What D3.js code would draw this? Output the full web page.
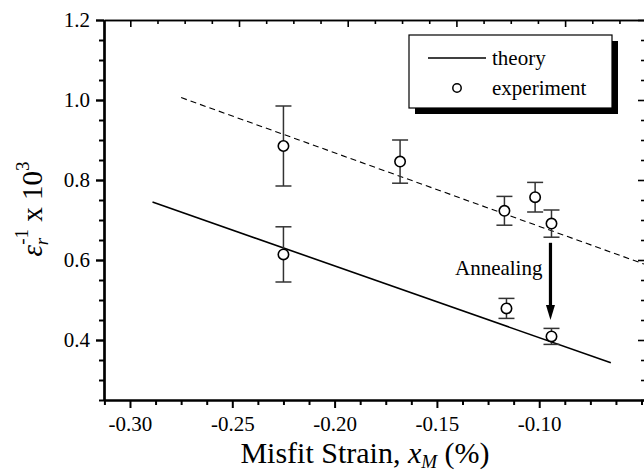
<!DOCTYPE html>
<html>
<head>
<meta charset="utf-8">
<script src="https://cdn.jsdelivr.net/npm/d3@7"></script>
<style>
  body { margin: 0; background: #fff; }
  text { font-family: "Liberation Serif", "Times New Roman", serif; fill: #000; }
</style>
</head>
<body>
<div id="chart"></div>
<script>
// experiment, upper group (as grown)
const grownStrain = [-0.225, -0.168, -0.117, -0.102, -0.094];
const grownValue  = [0.885, 0.846, 0.723, 0.757, 0.691];
const grownError  = [0.100, 0.054, 0.036, 0.037, 0.034];
// experiment, lower group
const lowStrain = [-0.225, -0.116, -0.094];
const lowValue  = [0.614, 0.479, 0.409];
const lowError  = [0.069, 0.025, 0.020];
// theory line and dashed guide
const theoryStrain = [-0.289, -0.065];
const theoryValue  = [0.745, 0.343];
const guideStrain  = [-0.275, -0.0483];
const guideValue   = [1.006, 0.589];
// annealing arrow
const annealStrain = -0.0945;
const annealFrom = 0.643, annealTo = 0.45;

const xMajor = [-0.30, -0.25, -0.20, -0.15, -0.10];
const yMajor = [0.4, 0.6, 0.8, 1.0, 1.2];

const W = 644, H = 473;
const plot = {left: 104, right: 645, top: 20, bottom: 400};

const svg = d3.select("#chart").append("svg")
  .attr("width", W).attr("height", H);

const x = d3.scaleLinear().domain([-0.3127, -0.0483]).range([plot.left, plot.right]);
const y = d3.scaleLinear().domain([0.25, 1.2]).range([plot.bottom, plot.top]);
// unlabelled top scale, its ticks do not line up with the bottom ones
const xTop = d3.scaleLinear().domain([-0.242, 4.735]).range([plot.left, plot.right]);

const xMinor = d3.range(-0.3125, -0.049, 0.0125).filter(v => !xMajor.some(m => Math.abs(m - v) < 1e-6));
const yMinor = d3.range(0.25, 1.2, 0.05).filter(v => !yMajor.some(m => Math.abs(m - v) < 1e-6));
const topMajor = [0, 1, 2, 3, 4];
const topMinor = d3.range(0, 4.75, 0.25).filter(v => v % 1 !== 0);

function styleAxis(g, w) {
  g.select(".domain").attr("stroke", "#000").attr("stroke-width", w);
  g.selectAll(".tick line").attr("stroke", "#000").attr("stroke-width", w);
  g.selectAll(".tick text").attr("font-size", 21).attr("fill", "#000");
}

// bottom
svg.append("g").attr("transform", `translate(0,${plot.bottom})`)
  .call(d3.axisBottom(x).tickValues(xMinor).tickSize(5).tickFormat("").tickSizeOuter(0))
  .call(g => styleAxis(g, 2));
svg.append("g").attr("transform", `translate(0,${plot.bottom})`)
  .call(d3.axisBottom(x).tickValues(xMajor).tickSize(8).tickPadding(8).tickSizeOuter(0).tickFormat(d => d.toFixed(2)))
  .call(g => styleAxis(g, 2));

// left
svg.append("g").attr("transform", `translate(${plot.left},0)`)
  .call(d3.axisLeft(y).tickValues(yMinor).tickSize(5).tickFormat("").tickSizeOuter(0))
  .call(g => styleAxis(g, 2));
svg.append("g").attr("transform", `translate(${plot.left},0)`)
  .call(d3.axisLeft(y).tickValues(yMajor).tickSize(8).tickPadding(6).tickSizeOuter(0).tickFormat(d => d.toFixed(1)))
  .call(g => styleAxis(g, 2.4));

// top (inward ticks)
svg.append("g").attr("transform", `translate(0,${plot.top})`)
  .call(d3.axisBottom(xTop).tickValues(topMinor).tickSize(4).tickFormat("").tickSizeOuter(0))
  .call(g => styleAxis(g, 1.6));
svg.append("g").attr("transform", `translate(0,${plot.top})`)
  .call(d3.axisBottom(xTop).tickValues(topMajor).tickSize(7).tickFormat("").tickSizeOuter(0))
  .call(g => styleAxis(g, 1.6));

// right (inward ticks)
svg.append("g").attr("transform", `translate(${plot.right},0)`)
  .call(d3.axisLeft(y).tickValues(yMinor).tickSize(4).tickFormat("").tickSizeOuter(0))
  .call(g => styleAxis(g, 1.6));
svg.append("g").attr("transform", `translate(${plot.right},0)`)
  .call(d3.axisLeft(y).tickValues(yMajor).tickSize(7).tickFormat("").tickSizeOuter(0))
  .call(g => styleAxis(g, 1.6));

// lines
const line = d3.line().x(d => x(d[0])).y(d => y(d[1]));
svg.append("path")
  .datum(d3.zip(guideStrain, guideValue))
  .attr("d", line).attr("fill", "none").attr("stroke", "#000")
  .attr("stroke-width", 1.1).attr("stroke-dasharray", "6,4");
svg.append("path")
  .datum(d3.zip(theoryStrain, theoryValue))
  .attr("d", line).attr("fill", "none").attr("stroke", "#000")
  .attr("stroke-width", 1.6);

// experiment points with error bars
const points = d3.zip(grownStrain, grownValue, grownError)
  .concat(d3.zip(lowStrain, lowValue, lowError));
const capW = 8;
const pg = svg.append("g").selectAll("g").data(points).join("g");
pg.append("line")
  .attr("x1", d => x(d[0])).attr("x2", d => x(d[0]))
  .attr("y1", d => y(d[1] + d[2])).attr("y2", d => y(d[1] - d[2]))
  .attr("stroke", "#333").attr("stroke-width", 1.5);
pg.selectAll(".cap").data(d => [[d[0], d[1] + d[2]], [d[0], d[1] - d[2]]]).join("line")
  .attr("class", "cap")
  .attr("x1", d => x(d[0]) - capW).attr("x2", d => x(d[0]) + capW)
  .attr("y1", d => y(d[1])).attr("y2", d => y(d[1]))
  .attr("stroke", "#333").attr("stroke-width", 1.5);
pg.append("circle")
  .attr("cx", d => x(d[0])).attr("cy", d => y(d[1])).attr("r", 5.2)
  .attr("fill", "#fff").attr("stroke", "#000").attr("stroke-width", 1.6);

// annealing arrow
const ax = x(annealStrain);
svg.append("line")
  .attr("x1", ax).attr("x2", ax)
  .attr("y1", y(annealFrom)).attr("y2", y(annealTo) - 12)
  .attr("stroke", "#000").attr("stroke-width", 3.2);
svg.append("path")
  .attr("d", `M${ax - 4.5},${y(annealTo) - 15} L${ax + 4.5},${y(annealTo) - 15} L${ax},${y(annealTo)} Z`)
  .attr("fill", "#000");
svg.append("text")
  .attr("x", ax - 8).attr("y", y(annealFrom) + 32)
  .attr("text-anchor", "end").attr("font-size", 21)
  .text("Annealing");

// legend
const lg = svg.append("g");
lg.append("rect").attr("x", 415).attr("y", 41).attr("width", 203).attr("height", 73).attr("fill", "#000");
lg.append("rect").attr("x", 409).attr("y", 35).attr("width", 203).attr("height", 73)
  .attr("fill", "#fff").attr("stroke", "#000").attr("stroke-width", 1.2);
lg.append("line").attr("x1", 428).attr("x2", 486).attr("y1", 58).attr("y2", 58)
  .attr("stroke", "#000").attr("stroke-width", 1.6);
lg.append("text").attr("x", 492).attr("y", 65).attr("font-size", 21).text("theory");
lg.append("circle").attr("cx", 457).attr("cy", 88).attr("r", 4.2)
  .attr("fill", "#fff").attr("stroke", "#000").attr("stroke-width", 1.5);
lg.append("text").attr("x", 492).attr("y", 95).attr("font-size", 21).text("experiment");

// x title
const xt = svg.append("text")
  .attr("x", 365).attr("y", 463)
  .attr("text-anchor", "middle").attr("font-size", 30);
xt.append("tspan").text("Misfit Strain, ");
xt.append("tspan").attr("font-style", "italic").text("x");
xt.append("tspan").attr("font-style", "italic").attr("font-size", 19).attr("dy", 5).text("M");
xt.append("tspan").attr("dy", -5).text(" (%)");

// y title
const yt = svg.append("text")
  .attr("transform", "translate(42,209) rotate(-90)")
  .attr("text-anchor", "middle").attr("font-size", 29);
yt.append("tspan").attr("font-style", "italic").text("ε");
yt.append("tspan").attr("font-style", "italic").attr("font-size", 19).attr("dy", 6).text("r");
yt.append("tspan").attr("font-size", 19).attr("dx", -7).attr("dy", -20).text("-1");
yt.append("tspan").attr("dy", 14).text(" x 10");
yt.append("tspan").attr("font-size", 19).attr("dy", -13).text("3");
</script>
</body>
</html>
